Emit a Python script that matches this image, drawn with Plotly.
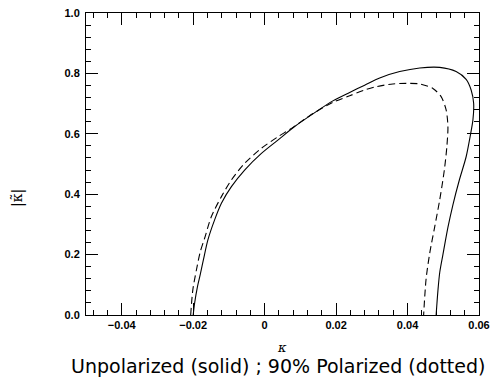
import plotly.graph_objects as go

# Solid curve (unpolarized)
solid_kappa = [-0.0200, -0.0196, -0.0188, -0.0180, -0.0171, -0.0159, -0.0140, -0.0121, -0.0093, -0.0056,
               -0.0009, 0.0037, 0.0084, 0.0135, 0.0191, 0.0238, 0.0280, 0.0322, 0.0378, 0.0434,
               0.0490, 0.0536, 0.0564, 0.0578, 0.0585, 0.0583, 0.0575, 0.0564, 0.0545, 0.0527,
               0.0513, 0.0499, 0.0490, 0.0485, 0.0480]
solid_abs = [0.000, 0.039, 0.094, 0.135, 0.185, 0.248, 0.315, 0.370, 0.425, 0.480,
             0.535, 0.579, 0.624, 0.666, 0.709, 0.737, 0.761, 0.785, 0.806, 0.818,
             0.820, 0.806, 0.780, 0.745, 0.701, 0.646, 0.590, 0.524, 0.447, 0.365,
             0.290, 0.200, 0.140, 0.080, 0.000]

# Dashed curve (90% polarized)
dashed_kappa = [-0.0207, -0.0201, -0.0191, -0.0180, -0.0168, -0.0149, -0.0121, -0.0093, -0.0056, -0.0009,
                0.0037, 0.0075, 0.0126, 0.0191, 0.0238, 0.0280, 0.0312, 0.0359, 0.0406, 0.0434,
                0.0471, 0.0494, 0.0508, 0.0513, 0.0510, 0.0503, 0.0490, 0.0476, 0.0462, 0.0452,
                0.0445]
dashed_abs = [0.000, 0.083, 0.149, 0.210, 0.254, 0.326, 0.392, 0.447, 0.502, 0.552,
              0.590, 0.618, 0.660, 0.704, 0.726, 0.745, 0.756, 0.765, 0.767, 0.765,
              0.750, 0.723, 0.679, 0.624, 0.557, 0.480, 0.381, 0.292, 0.204, 0.120,
              0.000]

x_tickvals = [-0.04, -0.02, 0, 0.02, 0.04, 0.06]
x_ticktext = ["\u22120.04", "\u22120.02", "0", "0.02", "0.04", "0.06"]
y_tickvals = [0.0, 0.2, 0.4, 0.6, 0.8, 1.0]
y_ticktext = ["0.0", "0.2", "0.4", "0.6", "0.8", "1.0"]

fig = go.Figure()
fig.add_trace(go.Scatter(x=solid_kappa, y=solid_abs, mode="lines",
                         line=dict(color="black", width=1.1, shape="spline", smoothing=0.8),
                         showlegend=False))
fig.add_trace(go.Scatter(x=dashed_kappa, y=dashed_abs, mode="lines",
                         line=dict(color="black", width=1.1, dash="7px,4px", shape="spline", smoothing=0.8),
                         showlegend=False))

L, R, T, B = 86, 10.5, 13, 62
W, H = 490, 377
pw = W - L - R
ph = H - T - B

tickfont = dict(family="Liberation Sans, Arial, sans-serif", size=11, color="black", weight="bold")

fig.update_layout(
    width=W, height=H, autosize=False,
    margin=dict(l=L, r=R, t=T, b=B, pad=0, autoexpand=False),
    paper_bgcolor="white", plot_bgcolor="white",
    xaxis=dict(range=[-0.05, 0.06], tickvals=x_tickvals, ticktext=x_ticktext,
               ticks="inside", ticklen=12, tickwidth=1, tickcolor="black",
               showline=True, linecolor="black", linewidth=1, mirror="ticks",
               showgrid=False, zeroline=False, tickfont=tickfont, automargin=False,
               minor=dict(dtick=0.004, tick0=0, ticks="inside", ticklen=5,
                          tickwidth=1, tickcolor="black", showgrid=False)),
    yaxis=dict(range=[0, 1.0], tickvals=y_tickvals, ticktext=y_ticktext,
               ticks="inside", ticklen=12, tickwidth=1, tickcolor="black",
               showline=True, linecolor="black", linewidth=1, mirror="ticks",
               showgrid=False, zeroline=False, tickfont=tickfont, automargin=False,
               ticklabelstandoff=3,
               minor=dict(dtick=0.04, tick0=0, ticks="inside", ticklen=5,
                          tickwidth=1, tickcolor="black", showgrid=False)),
    annotations=[
        dict(text="|\u03ba\u0303|", x=(17 - L) / pw, y=(H - B - 198) / ph,
             xref="paper", yref="paper", showarrow=False, textangle=-90,
             font=dict(family="DejaVu Serif, serif", size=14, color="black"),
             xanchor="center", yanchor="middle"),
        dict(text="<i>\u03ba</i>", x=(282 - L) / pw, y=(H - B - 347) / ph,
             xref="paper", yref="paper", showarrow=False,
             font=dict(family="DejaVu Serif, serif", size=13, color="black"),
             xanchor="center", yanchor="middle"),
        dict(text="Unpolarized (solid) ; 90% Polarized (dotted)", x=(278 - L) / pw, y=(H - B - 366) / ph,
             xref="paper", yref="paper", showarrow=False,
             font=dict(family="DejaVu Sans, sans-serif", size=19, color="black"),
             xanchor="center", yanchor="middle"),
    ],
)

fig.write_html("out.html", config={"displayModeBar": False},
               post_script="document.body.style.margin='0';document.body.style.overflow='hidden';")
